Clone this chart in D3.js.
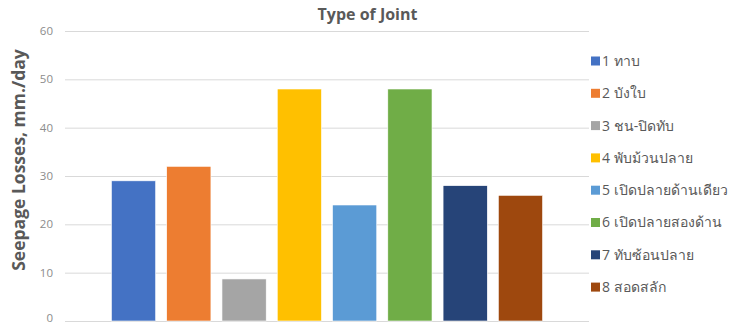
<!DOCTYPE html>
<html>
<head>
<meta charset="utf-8">
<script src="https://cdn.jsdelivr.net/npm/d3@7"></script>
<style>
  body { margin: 0; background: #fff; }
  svg { font-family: "Open Sans", "Noto Sans", sans-serif; }
</style>
</head>
<body>
<div id="chart"></div>
<script>
// data
const seriesNames = ['1 ทาบ', '2 บังใบ', '3 ชน-ปิดทับ', '4 พับม้วนปลาย', '5 เปิดปลายด้านเดียว', '6 เปิดปลายสองด้าน', '7 ทับซ้อนปลาย', '8 สอดสลัก']
const seriesValues = [29, 32, 8.7, 48, 24, 48, 28, 26]
const seriesColors = ['#4472C4', '#ED7D31', '#A5A5A5', '#FFC000', '#5B9BD5', '#70AD47', '#264478', '#9E480E']
const yTicks = [0, 10, 20, 30, 40, 50, 60]

const width = 735, height = 325
const plot = { left: 65, right: 589, top: 31, bottom: 321 }

const svg = d3.select('#chart').append('svg')
  .attr('width', width)
  .attr('height', height)

const x = d3.scaleBand()
  .domain(seriesNames)
  .range([plot.left, plot.right])
  .paddingInner(0.2)
  .paddingOuter(0.84)

const y = d3.scaleLinear()
  .domain([0, 60])
  .range([plot.bottom, plot.top])

// gridlines + tick labels
const yAxis = svg.append('g')
  .attr('transform', `translate(${plot.left},0)`)
  .call(d3.axisLeft(y).tickValues(yTicks).tickSize(-(plot.right - plot.left)).tickPadding(12))
yAxis.select('.domain').remove()
yAxis.selectAll('.tick line').attr('stroke', '#d9d9d9').attr('stroke-width', 1)
yAxis.selectAll('.tick text')
  .attr('fill', '#8c8c8c')
  // keep the 0 label inside the bottom edge
  .attr('dy', d => d === 0 ? '0.05em' : '0.3em')
  .style('font-size', '11.5px')
  .style('font-family', '"Open Sans", sans-serif')

// bars
svg.append('g')
  .selectAll('rect')
  .data(seriesNames)
  .join('rect')
  .attr('x', d => x(d))
  .attr('width', x.bandwidth())
  .attr('y', (d, i) => y(seriesValues[i]))
  .attr('height', (d, i) => y(0) - y(seriesValues[i]))
  .attr('fill', (d, i) => seriesColors[i])
  .attr('stroke', '#fff')
  .attr('stroke-width', 0.6)

// title
svg.append('text')
  .attr('x', width / 2)
  .attr('y', 20)
  .attr('text-anchor', 'middle')
  .attr('fill', '#595959')
  .style('font-size', '16px')
  .style('font-weight', 'bold')
  .text('Type of Joint')

// y axis label
svg.append('text')
  .attr('transform', `translate(25,160) rotate(-90)`)
  .attr('text-anchor', 'middle')
  .attr('fill', '#595959')
  .style('font-size', '17.5px')
  .style('font-weight', 'bold')
  .text('Seepage Losses, mm./day')

// legend
const legend = svg.append('g')
  .attr('transform', 'translate(591,61)')
const item = legend.selectAll('g')
  .data(seriesNames)
  .join('g')
  .attr('transform', (d, i) => `translate(0,${i * 32.3})`)
item.append('rect')
  .attr('x', 0)
  .attr('y', -4.5)
  .attr('width', 9)
  .attr('height', 9)
  .attr('fill', (d, i) => seriesColors[i])
item.append('text')
  .attr('x', 11)
  .attr('y', 0)
  .attr('dy', '0.35em')
  .attr('fill', '#595959')
  .style('font-size', '14px')
  .text(d => d)
</script>
</body>
</html>
